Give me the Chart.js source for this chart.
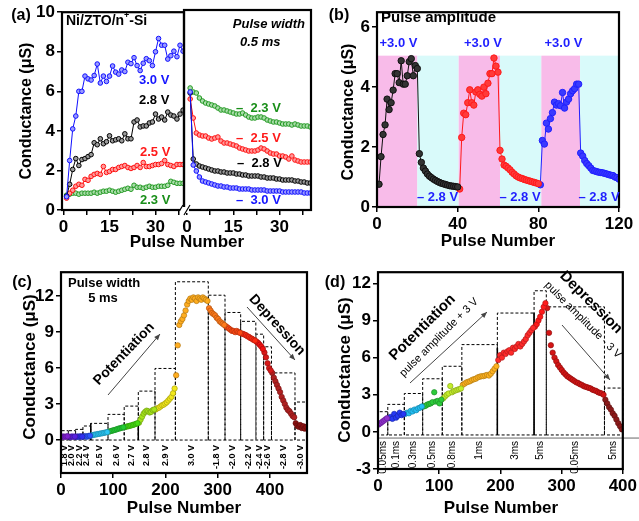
<!DOCTYPE html>
<html>
<head>
<meta charset="utf-8">
<script src="https://cdn.jsdelivr.net/npm/chart.js@4.4.1/dist/chart.umd.min.js"></script>
<style>
  body { margin: 0; background: #fff; width: 639px; height: 521px; position: relative; overflow: hidden; }
  canvas { position: absolute; }
</style>
</head>
<body>
<canvas id="aL" width="320" height="260" style="left:0px;top:0px"></canvas>
<canvas id="aR" width="140" height="260" style="left:180px;top:0px"></canvas>
<canvas id="cB" width="319" height="260" style="left:320px;top:0px"></canvas>
<canvas id="cC" width="320" height="261" style="left:0px;top:260px"></canvas>
<canvas id="cD" width="319" height="261" style="left:320px;top:260px"></canvas>
<script>
// ---------- data ----------
// (a) potentiation, pulses 1..39
var aPot30 = [0.67,2.5,4.1,4.75,6.0,6.0,6.77,6.63,6.57,6.8,7.38,6.42,6.77,6.5,6.77,7.28,6.97,6.87,7.08,7.0,7.47,7.4,7.7,7.3,7.05,7.42,7.65,7.55,7.3,8.0,8.67,8.33,8.33,7.63,7.8,8.03,7.75,8.33,8.03];
var aPot28 = [0.7,1.3,2.05,2.6,2.25,2.55,2.6,2.7,2.8,3.4,3.3,3.6,3.35,3.45,3.75,3.5,3.55,3.6,3.5,3.85,3.6,3.6,4.45,4.55,4.2,4.25,4.25,4.4,4.45,4.85,4.6,4.7,4.55,4.95,4.8,4.75,4.6,4.85,5.05];
var aPot25 = [0.6,0.85,1.0,1.2,1.3,1.25,1.55,1.5,1.7,1.8,1.85,1.8,2.2,1.9,1.95,2.05,2.05,2.15,2.2,2.25,2.15,2.1,2.15,2.25,2.15,2.4,2.2,2.2,2.25,2.3,2.3,2.35,2.5,2.3,2.25,2.2,2.3,2.3,2.3];
var aPot23 = [0.75,0.8,0.85,0.85,0.8,0.85,0.85,0.85,0.85,0.9,0.85,0.9,0.95,0.95,1.0,0.95,0.9,0.95,1.0,1.05,1.1,1.05,1.25,1.15,1.15,1.1,1.15,1.2,1.15,1.15,1.2,1.2,1.2,1.25,1.45,1.4,1.35,1.35,1.35];
// (a) depression, pulses 1..40
var aDep23 = [6.1,5.9,5.85,5.6,5.45,5.35,5.3,5.25,5.2,5.1,5.0,5.0,4.95,4.9,4.85,4.8,4.8,4.85,4.75,4.65,4.6,4.6,4.65,4.65,4.6,4.5,4.45,4.4,4.4,4.35,4.3,4.3,4.3,4.25,4.3,4.25,4.2,4.2,4.2,4.15];
var aDep25 = [5.55,4.6,3.85,3.75,3.7,3.7,3.6,3.55,3.6,3.65,3.45,3.35,3.35,3.3,3.25,3.2,3.1,3.05,3.0,2.95,2.95,2.95,3.0,3.1,3.05,2.95,2.85,2.8,2.8,2.7,2.7,2.65,2.55,2.7,2.5,2.45,2.4,2.4,2.4,2.4];
var aDep28 = [5.85,2.55,2.3,2.2,2.15,2.1,2.05,2.0,1.95,1.95,1.9,1.9,1.85,1.85,1.85,1.8,1.8,1.75,1.75,1.7,1.7,1.7,1.7,1.65,1.65,1.6,1.6,1.6,1.55,1.55,1.5,1.5,1.5,1.5,1.45,1.45,1.4,1.4,1.35,1.35];
var aDep30 = [5.9,2.25,1.95,1.65,1.45,1.4,1.35,1.3,1.25,1.2,1.2,1.15,1.15,1.1,1.1,1.1,1.05,1.05,1.05,1.05,1.0,1.0,1.0,1.0,1.0,0.95,0.95,0.95,0.95,0.95,0.9,0.9,0.9,0.9,0.9,0.9,0.9,0.85,0.85,0.85];

// (b) three cycles, 20 pulses +3.0 V then 20 pulses -2.8 V
var bPot1 = [0.76,1.68,2.42,2.74,3.6,3.25,3.48,3.9,4.45,4.45,4.15,4.88,4.1,4.1,4.38,4.85,4.95,4.38,4.72,4.62];
var bDep1 = [1.78,1.49,1.3,1.2,1.1,1.03,0.98,0.93,0.89,0.85,0.82,0.79,0.77,0.75,0.73,0.71,0.7,0.69,0.68,0.67];
var bPot2 = [0.6,2.32,3.13,3.08,3.48,3.91,3.48,3.4,3.84,3.91,3.76,3.7,4.0,3.78,4.13,4.45,4.45,4.97,4.7,4.5];
var bDep2 = [1.89,1.6,1.4,1.36,1.3,1.24,1.16,1.1,1.04,1.0,0.97,0.95,0.92,0.9,0.88,0.86,0.84,0.82,0.8,0.78];
var bPot3 = [0.74,2.22,2.1,2.8,2.6,2.95,3.15,3.5,3.4,3.45,3.38,3.82,3.3,3.5,3.6,3.78,3.88,3.95,4.1,4.1];
var bDep3 = [1.8,1.7,1.55,1.45,1.38,1.3,1.22,1.2,1.18,1.16,1.15,1.14,1.12,1.1,1.08,1.06,1.05,1.0,0.98,0.93];
var bBands = [[0,20],[20,40.5],[40.5,61],[61,81.5],[81.5,100.7],[100.7,120]];
var bBandTop = 5.05;

// (c) pulse amplitude steps (5 ms)
var cVolts = ['1.8 V','2.0 V','2.2 V','2.4 V','2.5 V','2.6 V','2.7 V','2.8 V','2.9 V','3.0 V','-1.8 V','-2.0 V','-2.2 V','-2.4 V','-2.6 V','-2.8 V','-3.0 V'];
var cEdges = [0,14,28,42,57,90,121,148,180,219,282,314,344,373,388,403,448,471];
var cBoxTop = [0.78,0.78,0.89,1.17,1.39,2.14,2.83,4.08,5.97,13.2,12.08,10.64,9.9,8.83,7.78,5.6,3.17];
var cValues = [
  [0.27,0.3,0.26,0.29,0.31],
  [0.28,0.25,0.3,0.27,0.29],
  [0.26,0.3,0.27,0.31,0.28],
  [0.3,0.33,0.28,0.34,0.36],
  [0.38,0.42,0.45,0.47,0.5,0.52,0.55,0.57,0.6,0.63,0.66],
  [0.7,0.74,0.78,0.82,0.85,0.9,0.95,0.98,1.02,1.06],
  [1.08,1.12,1.15,1.18,1.22,1.26,1.3,1.35,1.4],
  [1.45,1.7,1.95,2.2,2.35,2.45,2.4,2.3,2.35,2.5,2.55],
  [2.55,2.65,2.7,2.8,2.9,2.95,3.05,3.15,3.3,3.45,3.6,3.9,4.3],
  [5.4,7.9,9.6,9.9,10.1,10.4,10.8,11.3,11.6,11.8,11.7,11.9,11.8,11.6,11.9,11.8,11.7,11.9,11.8,11.7,11.6],
  [11.0,10.8,10.6,10.5,10.4,10.2,10.1,9.9,9.8,9.7,9.6],
  [9.5,9.4,9.3,9.2,9.1,9.1,9.0,9.1,9.0,8.95],
  [8.9,8.85,8.8,8.75,8.65,8.6,8.5,8.45,8.35,8.3],
  [8.2,8.1,7.95,7.8,7.6],
  [7.3,6.9,6.4,6.0,5.8],
  [5.6,5.2,4.9,4.6,4.3,4.0,3.6,3.3,3.0,2.7,2.5,2.4,2.2,2.0,1.9],
  [1.4,1.2,1.1,1.25,1.0,1.15,0.95,1.1]
];
var cSolid = [[57,1.39],[148,1.4],[373,8.83]];

// (d) pulse width steps (+/-3 V)
var dWidths = ['0.05ms','0.1ms','0.3ms','0.5ms','0.8ms','1ms','3ms','5ms','0.05ms','5ms'];
var dEdges = [0,16,43,73,105,137,195,255,275,370,400];
var dBoxTop = [1.63,2.22,3.1,4.29,5.3,7.05,9.6,11.4,10.1,3.54];
var dBase = -0.25;
var dValues = [
  [0.6,0.7,0.8,0.9,1.0,1.1],
  [1.1,1.2,1.05,1.45,1.15,1.3,1.55,1.35,1.45],
  [1.45,1.55,1.5,1.7,1.65,1.8,1.75,1.9,1.95,2.05],
  [2.05,2.1,2.2,2.25,2.3,2.4,3.2,2.45,2.5,2.3,2.6],
  [2.7,2.85,3.0,3.1,3.7,3.2,3.3,3.35,3.4,3.45,3.5],
  [3.8,3.9,4.0,4.05,4.1,4.2,4.25,4.3,4.4,4.45,4.5,4.5,4.55,4.6,4.55,4.7,4.9,5.1,5.3],
  [5.8,6.2,6.0,6.4,6.3,6.5,6.6,6.4,6.8,6.7,6.9,7.1,6.9,7.1,7.3,7.5,7.8,8.0,8.2,8.4],
  [8.5,8.7,9.0,9.3,9.7,10.1,10.4],
  [10.0,8.0,7.0,6.4,6.0,5.7,5.4,5.2,5.0,4.8,4.65,4.5,4.4,4.3,4.2,4.1,4.0,3.95,3.85,3.8,3.7,3.65,3.6,3.55,3.5,3.4,3.35,3.3,3.2,3.15,3.1,3.0],
  [2.6,2.3,2.0,1.8,1.5,1.3,1.0,0.7,0.45,0.2]
];
var dSolid = [[195,6.8],[255,9.6]];
var dBaseLine = -0.5;

// ticks
var aYTicks = [0,2,4,6,8,10];
var aXTicks = [0,15,30];
var aXMinor = [7.5,22.5,37.5];
var bYTicks = [0,2,4,6];
var bXTicks = [0,40,80,120];
var cYTicks = [0,3,6,9,12];
var cXTicks = [0,100,200,300,400];
var dYTicks = [-3,0,3,6,9,12];
var dXTicks = [0,100,200,300,400];

// ---------- styles ----------
var FONT = "'Liberation Sans', Arial, sans-serif";
Chart.defaults.font.family = FONT;
Chart.defaults.color = '#000';
function fnt(size, weight, style) { return (style || '') + ' ' + (weight || '') + ' ' + size + 'px ' + FONT; }

var cColors = ['#7f1fd0','#5b22e0','#3030f0','#2a55ff','#29c6f5','#22cc33','#44dd11','#a6e61a','#f2e81a','#ffad1f','#ff7a1a','#ff4a14','#ff2a10','#f01010','#d81818','#b02020','#8a1010'];
var dColors = ['#9030d0','#2538f5','#22c0f5','#2ccc3a','#c4ee2a','#ffb21e','#ff2a2a','#ff1a1a','#d41515','#8c1a1a'];
var blue = '#1010ff', red = '#ff1010', green = '#229922';

function darker(hex) {
  var n = parseInt(hex.slice(1), 16);
  var r = Math.round(((n >> 16) & 255) * 0.7), g = Math.round(((n >> 8) & 255) * 0.7), b = Math.round((n & 255) * 0.7);
  return 'rgb(' + r + ',' + g + ',' + b + ')';
}

// ---------- helpers ----------
function axis(min, max, major, minor, size, show) {
  var all = major.concat(minor || []).sort(function (p, q) { return p - q; });
  return {
    type: 'linear', min: min, max: max, display: show !== false,
    afterBuildTicks: function (s) { s.ticks = all.map(function (v) { return {value: v}; }); },
    afterFit: function (s) { if (s.isHorizontal()) s.height = size; else s.width = size; },
    grid: {drawOnChartArea: false, tickLength: 5, color: '#000', lineWidth: 1.5},
    border: {display: false},
    ticks: {autoSkip: false, maxRotation: 0, padding: 2, color: '#000',
      font: {size: 17, weight: 'bold'},
      callback: function (v) { return major.indexOf(v) >= 0 ? String(v) : ''; }}
  };
}

function lineSet(vals, x0, color, fill, r) {
  return {
    data: vals.map(function (y, i) { return {x: x0 + i, y: y}; }),
    showLine: true, borderColor: color, borderWidth: 1, backgroundColor: fill,
    pointRadius: r, pointBackgroundColor: fill, pointBorderColor: color, pointBorderWidth: 1
  };
}

function dotSet(vals, a, b, color) {
  var w = (b - a) / vals.length;
  return {
    data: vals.map(function (y, i) { return {x: a + (i + 0.5) * w, y: y}; }),
    showLine: false, pointRadius: 2.7, pointBackgroundColor: color,
    pointBorderColor: darker(color), pointBorderWidth: 0.7
  };
}

var framePlugin = {
  id: 'frame',
  afterDatasetsDraw: function (chart) {
    var a = chart.chartArea, c = chart.ctx;
    c.save(); c.strokeStyle = '#000'; c.lineWidth = 2.2;
    c.strokeRect(a.left, a.top, a.right - a.left, a.bottom - a.top);
    c.restore();
  }
};

function T(s, x, y, font, color, align, rot) {
  return {s: s, x: x, y: y, font: font, color: color || '#000', align: align || 'center', rot: rot || 0};
}

function notes(ox, oy, items) {
  return {
    id: 'notes',
    afterDraw: function (chart) {
      var c = chart.ctx;
      items.forEach(function (it) {
        c.save();
        c.translate(it.x - ox, it.y - oy);
        if (it.kind === 'arrow') {
          var dx = it.x2 - it.x, dy = it.y2 - it.y, ang = Math.atan2(dy, dx);
          c.strokeStyle = '#444'; c.fillStyle = '#444'; c.lineWidth = 1;
          c.beginPath(); c.moveTo(0, 0); c.lineTo(dx, dy); c.stroke();
          c.translate(dx, dy); c.rotate(ang);
          c.beginPath(); c.moveTo(0, 0); c.lineTo(-6, -2.5); c.lineTo(-6, 2.5); c.closePath(); c.fill();
        } else if (it.kind === 'break') {
          c.fillStyle = '#fff'; c.fillRect(-5, -3, 10, 6);
          c.strokeStyle = '#000'; c.lineWidth = 1.2;
          c.beginPath(); c.moveTo(-7, 5); c.lineTo(-1, -5); c.moveTo(0, 5); c.lineTo(6, -5); c.stroke();
        } else if (it.parts) {
          c.textBaseline = 'middle'; c.textAlign = 'left'; c.fillStyle = '#000';
          var px = 0;
          it.parts.forEach(function (p) {
            c.font = p[1] ? it.supFont : it.font;
            c.fillText(p[0], px, p[1] ? -5 : 0);
            px += c.measureText(p[0]).width;
          });
        } else {
          if (it.rot) c.rotate(it.rot * Math.PI / 180);
          c.font = it.font; c.fillStyle = it.color; c.textAlign = it.align; c.textBaseline = 'middle';
          c.fillText(it.s, 0, 0);
        }
        c.restore();
      });
    }
  };
}

function bandsPlugin(bands, top, colors) {
  return {
    id: 'bands',
    beforeDatasetsDraw: function (chart) {
      var xs = chart.scales.x, ys = chart.scales.y, c = chart.ctx;
      c.save();
      bands.forEach(function (b, i) {
        var x1 = xs.getPixelForValue(b[0]), x2 = xs.getPixelForValue(b[1]);
        var y1 = ys.getPixelForValue(top), y2 = ys.getPixelForValue(0);
        c.fillStyle = colors[i % 2];
        c.fillRect(x1, y1, x2 - x1, y2 - y1);
      });
      c.restore();
    }
  };
}

function boxesPlugin(edges, tops, base, labels, labFont, labGap, solid, solidColors, baseLine) {
  return {
    id: 'boxes',
    beforeDatasetsDraw: function (chart) {
      var xs = chart.scales.x, ys = chart.scales.y, c = chart.ctx;
      var yb = ys.getPixelForValue(base);
      c.save();
      if (baseLine !== undefined) {
        var yl = ys.getPixelForValue(baseLine);
        c.strokeStyle = '#666'; c.lineWidth = 1;
        c.beginPath(); c.moveTo(chart.chartArea.left, yl); c.lineTo(chart.width, yl); c.stroke();
      }
      c.strokeStyle = '#000'; c.lineWidth = 1; c.setLineDash([3, 2]);
      for (var i = 0; i < tops.length; i++) {
        var x1 = xs.getPixelForValue(edges[i]), x2 = xs.getPixelForValue(edges[i + 1]);
        var yt = ys.getPixelForValue(tops[i]);
        c.beginPath();
        c.moveTo(x1, yb); c.lineTo(x1, yt); c.lineTo(x2, yt); c.lineTo(x2, yb); c.lineTo(x1, yb);
        c.stroke();
      }
      c.setLineDash([]);
      solid.forEach(function (s, k) {
        var x = xs.getPixelForValue(s[0]);
        c.strokeStyle = solidColors[k]; c.lineWidth = 1.5;
        c.beginPath(); c.moveTo(x, yb); c.lineTo(x, ys.getPixelForValue(s[1])); c.stroke();
      });
      c.fillStyle = '#000'; c.font = labFont; c.textAlign = 'right'; c.textBaseline = 'middle';
      for (var j = 0; j < labels.length; j++) {
        var cx = (xs.getPixelForValue(edges[j]) + xs.getPixelForValue(edges[j + 1])) / 2;
        c.save(); c.translate(cx, yb + labGap); c.rotate(-Math.PI / 2);
        c.fillText(labels[j], 0, 0);
        c.restore();
      }
      c.restore();
    }
  };
}

function makeChart(id, datasets, scales, pad, plugins) {
  return new Chart(document.getElementById(id), {
    type: 'scatter',
    data: {datasets: datasets},
    options: {
      responsive: false, animation: false, devicePixelRatio: 1, events: [],
      layout: {padding: pad, autoPadding: false},
      plugins: {legend: {display: false}, tooltip: {enabled: false}},
      scales: scales
    },
    plugins: [framePlugin].concat(plugins)
  });
}

// ---------- (a) ----------
var B16 = fnt(16, 'bold'), B17 = fnt(17, 'bold'), B13 = fnt(13, 'bold'), B14 = fnt(14, 'bold');
makeChart('aL', [
  lineSet(aPot30, 1, blue, '#9a9aff', 2.3),
  lineSet(aPot28, 1, '#000', '#9a9a9a', 2.3),
  lineSet(aPot25, 1, red, '#ff9a9a', 2.3),
  lineSet(aPot23, 1, green, '#a8dca8', 2.3)
], {
  x: axis(-0.5, 39.3, aXTicks, aXMinor, 50),
  y: axis(0, 10, aYTicks, [], 62)
}, {left: 0, top: 10, right: 136, bottom: 0}, [notes(0, 0, [
  T('(a)', 21, 16, B16),
  T('Conductance (μS)', 27, 111, B16, '#000', 'center', -90),
  T('Pulse Number', 187, 242, B17),
  {x: 66, y: 21, font: B14, supFont: fnt(9, 'bold'), parts: [['Ni/ZTO/n', 0], ['+', 1], ['-Si', 0]]},
  T('3.0 V', 139, 80, B13, '#1515ff', 'left'),
  T('2.8 V', 139, 100, B13, '#000', 'left'),
  T('2.5 V', 140, 152, B13, '#ff1a1a', 'left'),
  T('2.3 V', 140, 200, B13, '#1a8f1a', 'left')
])]);

makeChart('aR', [
  lineSet(aDep30, 1, blue, '#9a9aff', 2.3),
  lineSet(aDep28, 1, '#000', '#9a9a9a', 2.3),
  lineSet(aDep25, 1, red, '#ff9a9a', 2.3),
  lineSet(aDep23, 1, green, '#a8dca8', 2.3)
], {
  x: axis(-1, 40.2, aXTicks, aXMinor, 50),
  y: axis(0, 10, aYTicks, [], 0, false)
}, {left: 4, top: 10, right: 9, bottom: 0}, [notes(180, 0, [
  T('Pulse width', 305, 24, fnt(13, 'bold', 'italic'), '#000', 'right'),
  T('0.5 ms', 240, 42, fnt(13, 'bold', 'italic'), '#000', 'left'),
  T('–  2.3 V', 236, 108, B13, '#1a8f1a', 'left'),
  T('–  2.5 V', 236, 138, B13, '#ff1a1a', 'left'),
  T('–  2.8 V', 237, 163, B13, '#000', 'left'),
  T('–  3.0 V', 236, 200, B13, '#1515ff', 'left'),
  {kind: 'break', x: 184, y: 210}
])]);

// ---------- (b) ----------
var bBlue = '#1f1fff';
makeChart('cB', [
  lineSet(bPot1.concat(bDep1), 1, '#111', '#333', 3.2),
  lineSet(bPot2.concat(bDep2), 41, '#ff1a1a', '#ff3a3a', 3.2),
  lineSet(bPot3.concat(bDep3), 81, '#2020ff', '#3a3aff', 3.2)
], {
  x: axis(0, 120, bXTicks, [], 53),
  y: axis(0, 6.5, bYTicks, [], 57)
}, {left: 0, top: 7, right: 20, bottom: 0}, [
  bandsPlugin(bBands, bBandTop, ['#f8bbe9', '#d9fafa']),
  notes(320, 0, [
    T('(b)', 339, 16, B16),
    T('Conductance (μS)', 349, 112, B16, '#000', 'center', -90),
    T('Pulse Number', 498, 241, B17),
    T('Pulse amplitude', 381, 18, fnt(15, 'bold'), '#000', 'left'),
    T('+3.0 V', 398.5, 43, B13, bBlue),
    T('+3.0 V', 483, 43, B13, bBlue),
    T('+3.0 V', 563.5, 43, B13, bBlue),
    T('– 2.8 V', 437.5, 197, B13, bBlue),
    T('– 2.8 V', 520, 197, B13, bBlue),
    T('– 2.8 V', 599, 197, B13, bBlue)
  ])
]);

// ---------- (c) ----------
makeChart('cC', cValues.map(function (v, i) { return dotSet(v, cEdges[i], cEdges[i + 1], cColors[i]); }), {
  x: axis(0, 471, cXTicks, [], 48),
  y: axis(-2.75, 14, cYTicks, [], 61)
}, {left: 0, top: 12, right: 13, bottom: 0}, [
  boxesPlugin(cEdges, cBoxTop, 0, cVolts, fnt(9, 'bold'), 5, cSolid, ['#000', '#000', '#777']),
  notes(0, 260, [
    T('(c)', 22, 283, B16),
    T('Conductance (μS)', 30, 367, B17, '#000', 'center', -90),
    T('Pulse Number', 184, 508, B17),
    T('Pulse width', 68, 283, B13, '#000', 'left'),
    T('5 ms', 103, 298, B13),
    T('Potentiation', 124, 354, B14, '#000', 'center', -46),
    {kind: 'arrow', x: 108, y: 395, x2: 160, y2: 334},
    T('Depression', 277, 325, B14, '#000', 'center', 48),
    {kind: 'arrow', x: 247, y: 307, x2: 295, y2: 360}
  ])
]);

// ---------- (d) ----------
makeChart('cD', dValues.map(function (v, i) { return dotSet(v, dEdges[i], dEdges[i + 1], dColors[i]); }), {
  x: axis(0, 400, dXTicks, [], 52),
  y: axis(-3, 12.9, dYTicks, [], 58)
}, {left: 0, top: 10, right: 12, bottom: 0}, [
  boxesPlugin(dEdges, dBoxTop, dBase, dWidths, fnt(10), 6, dSolid, ['#000', '#000'], dBaseLine),
  notes(320, 260, [
    T('(d)', 335, 283, B16),
    T('Conductance (μS)', 345, 370, B17, '#000', 'center', -90),
    T('Pulse Number', 501, 508, B17),
    T('Potentiation', 422.5, 327.5, fnt(15, 'bold'), '#000', 'center', -45),
    T('pulse amplitude + 3 V', 439, 337.5, fnt(11), '#000', 'center', -45),
    {kind: 'arrow', x: 410, y: 383, x2: 487, y2: 312},
    T('Depression', 591, 302.5, fnt(15, 'bold'), '#000', 'center', 45),
    T('pulse amplitude - 3 V', 583, 320, fnt(11), '#000', 'center', 45),
    {kind: 'arrow', x: 562, y: 325, x2: 610, y2: 380}
  ])
]);
</script>
</body>
</html>
